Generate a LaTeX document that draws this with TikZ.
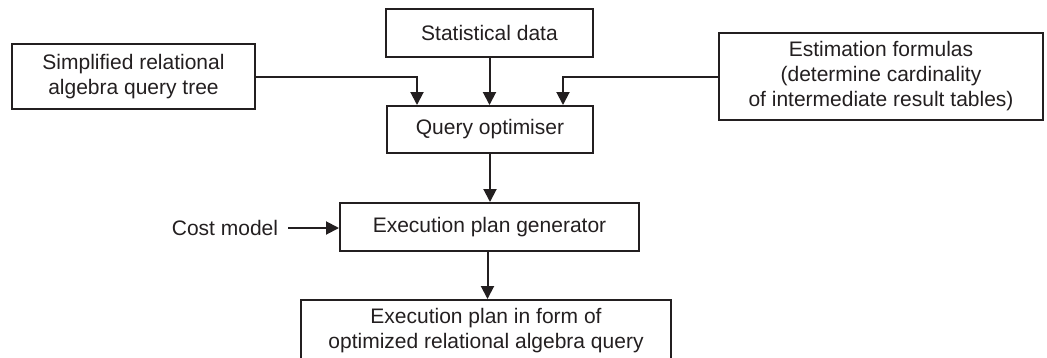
\documentclass[tikz,border=0pt]{standalone}
\usepackage{fontspec}
\setmainfont{Liberation Sans}
\usetikzlibrary{arrows.meta}
\definecolor{ink}{HTML}{231F20}
\begin{document}
\begin{tikzpicture}[x=1pt,y=-1pt,
  box/.style={draw=ink,line width=2pt,inner sep=0pt,align=center,text=ink,
    font=\fontsize{21}{25}\selectfont},
  arr/.style={draw=ink,line width=2pt,-{Triangle[length=13pt,width=13pt]}},
  lbl/.style={inner sep=0pt,text=ink,font=\fontsize{21}{25}\selectfont}]
\useasboundingbox (0,0) rectangle (1047,357);
\node[box,minimum width=207pt,minimum height=48pt] (stat) at (489.5,33) {Statistical data};
\node[box,minimum width=243pt,minimum height=65pt] (simp) at (133.5,76.5) {Simplified relational\\algebra query tree};
\node[box,minimum width=324pt,minimum height=87pt] (est) at (881,76.5) {Estimation formulas\\(determine cardinality\\of intermediate result tables)};
\node[box,minimum width=206pt,minimum height=47pt] (query) at (490,129.5) {Query optimiser};
\node[box,minimum width=299pt,minimum height=48pt] (gen) at (489.5,227) {Execution plan generator};
\node[box,minimum width=370pt,minimum height=62pt] (out) at (486,331) {Execution plan in form of\\optimized relational algebra query};
\node[lbl] (cost) at (225,228) {Cost model};
\draw[arr] (simp.east) -| ([xshift=-73pt]query.north);
\draw[arr] (stat.south) -- (stat.south |- query.north);
\draw[arr] (est.west) -| ([xshift=73pt]query.north);
\draw[arr] (query.south) -- (query.south |- gen.north);
\draw[arr] ([xshift=-2pt]gen.south) -- ([xshift=-2pt]gen.south |- out.north);
\draw[arr,shorten <=10pt] (cost.east) -- (cost.east -| gen.west);
\end{tikzpicture}
\end{document}
